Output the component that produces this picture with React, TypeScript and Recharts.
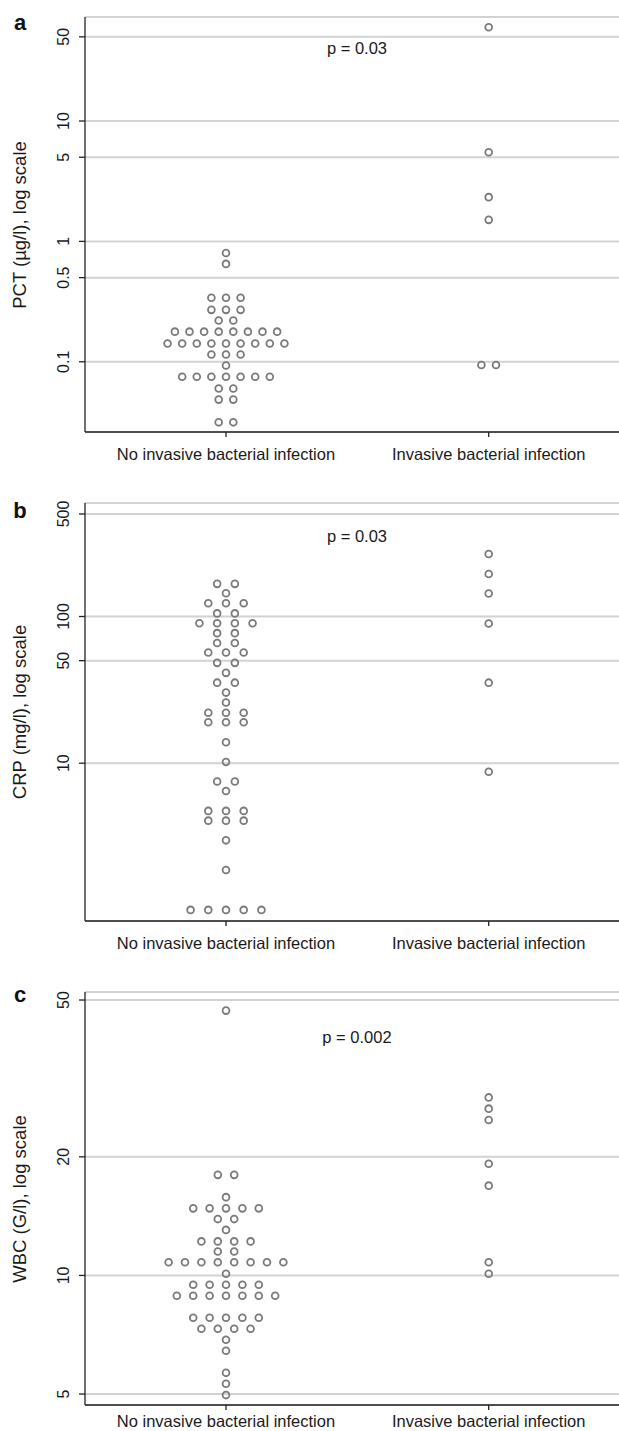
import React from 'react';
import { ScatterChart, Scatter, XAxis, YAxis, CartesianGrid } from 'recharts';

const groupLabels = ['No invasive bacterial infection', 'Invasive bacterial infection'];

// each row: [value, number of dots drawn side by side at that value]
const pctNoInfection: [number, number][] = [
  [0.8, 1], [0.65, 1], [0.34, 3], [0.27, 3], [0.22, 2], [0.178, 8], [0.142, 9],
  [0.115, 3], [0.093, 1], [0.075, 7], [0.06, 2], [0.0485, 2], [0.0314, 2],
];
const pctInfection: [number, number][] = [[60, 1], [5.5, 1], [2.33, 1], [1.51, 1], [0.094, 2]];

const crpNoInfection: [number, number][] = [
  [167, 2], [144, 1], [123, 3], [105, 2], [90, 4], [77, 2], [66, 2], [56.8, 3], [48.3, 2],
  [41.3, 1], [35.4, 2], [30.3, 1], [25.9, 1], [22.1, 3], [19, 3], [13.9, 1], [10.2, 1],
  [7.5, 2], [6.47, 1], [4.73, 3], [4.06, 3], [2.98, 1], [1.87, 1], [1.0, 5],
];
const crpInfection: [number, number][] = [[267, 1], [195, 1], [143.5, 1], [89.6, 1], [35.4, 1], [8.75, 1]];

const wbcNoInfection: [number, number][] = [
  [47, 1], [18, 2], [15.8, 1], [14.8, 5], [13.9, 2], [13.05, 1], [12.2, 4], [11.5, 2],
  [10.8, 8], [10.1, 1], [9.47, 5], [8.88, 7], [7.81, 5], [7.32, 4], [6.87, 1], [6.44, 1],
  [5.66, 1], [5.31, 1], [4.97, 1],
];
const wbcInfection: [number, number][] = [[28.3, 1], [26.5, 1], [24.8, 1], [19.2, 1], [16.9, 1], [10.8, 1], [10.1, 1]];

const pctTicks = [0.1, 0.5, 1, 5, 10, 50];
const crpTicks = [10, 50, 100, 500];
const wbcTicks = [5, 10, 20, 50];

const FONT = '"Liberation Sans", Arial, Helvetica, sans-serif';
const X_DOMAIN = [0.4633, 2.496];

// lay rows out side by side like a dot plot
const spread = (rows: [number, number][], group: number, step: number) =>
  rows.flatMap(([v, n]) =>
    Array.from({ length: n }, (_, i) => ({ x: group + (i - (n - 1) / 2) * step, y: v }))
  );

const Dot = (props: any) => (
  <circle cx={props.cx} cy={props.cy} r={3.4} fill="none" stroke="#7a7a7a" strokeWidth={1.8} />
);

const YTick = (props: any) => {
  const { x, y, payload } = props;
  const bx = x - 10;
  return (
    <text x={bx} y={y} transform={`rotate(-90, ${bx}, ${y})`} textAnchor="middle"
      fontSize={16} fontFamily={FONT} fill="#1a1a1a">
      {payload.value}
    </text>
  );
};

const makeXTick = (dy: number) => (props: any) => {
  const { x, y, payload } = props;
  return (
    <text x={x} y={y + dy} textAnchor="middle" fontSize={16.5} fontFamily={FONT} fill="#1a1a1a">
      {groupLabels[payload.value - 1]}
    </text>
  );
};

interface PanelProps {
  top: number;
  height: number;
  marginTop: number;
  xAxisHeight: number;
  labelDy: number;
  domain: number[];
  ticks: number[];
  noInf: [number, number][];
  inf: [number, number][];
  step: number;
  letter: string;
  letterY: number;
  yLabel: string;
  pText: string;
  pY: number;
}

const Panel: React.FC<PanelProps> = (p) => {
  const data = [...spread(p.noInf, 1, p.step), ...spread(p.inf, 2, p.step)];
  const plotTop = p.top + p.marginTop;
  const plotBottom = p.top + p.height - p.xAxisHeight;
  const XTick = makeXTick(p.labelDy);
  return (
    <>
      <div style={{ position: 'absolute', left: 0, top: p.top }}>
        <ScatterChart width={619} height={p.height}
          margin={{ top: p.marginTop, right: 0, bottom: 0, left: 0 }}>
          <CartesianGrid vertical={false} stroke="#d2d2d2" strokeWidth={2} />
          <XAxis type="number" dataKey="x" domain={X_DOMAIN} ticks={[1, 2]} allowDataOverflow
            height={p.xAxisHeight} tickSize={5} tickMargin={0} tick={<XTick />}
            axisLine={{ stroke: '#222', strokeWidth: 1.3 }} tickLine={{ stroke: '#222', strokeWidth: 1.3 }} />
          <YAxis type="number" dataKey="y" scale="log" domain={p.domain} ticks={p.ticks} allowDataOverflow
            width={85} tickSize={6} tickMargin={0} tick={<YTick />} interval={0}
            axisLine={{ stroke: '#222', strokeWidth: 1.3 }} tickLine={{ stroke: '#222', strokeWidth: 1.3 }} />
          <Scatter data={data} shape={Dot} isAnimationActive={false} />
        </ScatterChart>
      </div>
      <div style={{ position: 'absolute', left: 20, top: p.letterY, transform: 'translate(-50%, -50%)',
        fontFamily: FONT, fontWeight: 'bold', fontSize: 22, lineHeight: 1, color: '#111' }}>
        {p.letter}
      </div>
      <div style={{ position: 'absolute', left: 20, top: (plotTop + plotBottom) / 2,
        transform: 'translate(-50%, -50%) rotate(-90deg)', whiteSpace: 'nowrap',
        fontFamily: FONT, fontSize: 18.5, lineHeight: 1, color: '#1a1a1a' }}>
        {p.yLabel}
      </div>
      <div style={{ position: 'absolute', left: 357, top: p.pY, transform: 'translate(-50%, -50%)',
        whiteSpace: 'nowrap', fontFamily: FONT, fontSize: 16.5, lineHeight: 1, color: '#1a1a1a' }}>
        {p.pText}
      </div>
    </>
  );
};

export default function App() {
  return (
    <div style={{ position: 'absolute', left: 0, top: 0, width: 619, height: 1431, background: '#fff', overflow: 'hidden' }}>
      <Panel top={0} height={470} marginTop={17} xAxisHeight={38} labelDy={23} domain={[0.0261, 73.1]} ticks={pctTicks}
        noInf={pctNoInfection} inf={pctInfection} step={0.0556} letter="a" letterY={23}
        yLabel="PCT (µg/l), log scale" pText="p = 0.03" pY={48} />
      <Panel top={470} height={490} marginTop={33} xAxisHeight={39} labelDy={23} domain={[0.84, 594]} ticks={crpTicks}
        noInf={crpNoInfection} inf={crpInfection} step={0.0674} letter="b" letterY={511}
        yLabel="CRP (mg/l), log scale" pText="p = 0.03" pY={536} />
      <Panel top={960} height={471} marginTop={32} xAxisHeight={26} labelDy={17} domain={[4.69, 52.4]} ticks={wbcTicks}
        noInf={wbcNoInfection} inf={wbcInfection} step={0.0624} letter="c" letterY={995}
        yLabel="WBC (G/l), log scale" pText="p = 0.002" pY={1037} />
    </div>
  );
}
